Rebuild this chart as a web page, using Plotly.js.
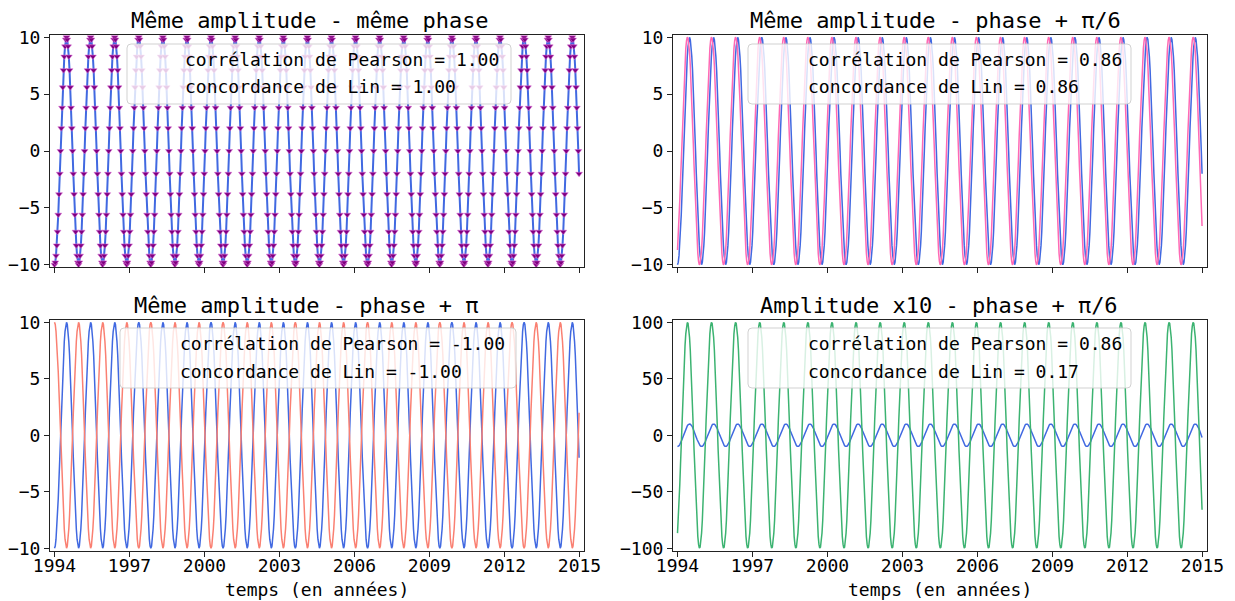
<!DOCTYPE html>
<html>
<head>
<meta charset="utf-8">
<script src="https://cdn.plot.ly/plotly-3.0.1.min.js"></script>
<style>html,body{margin:0;padding:0;background:#fff;}#chart{width:1235px;height:601px;}</style>
</head>
<body>
<div id="chart"></div>
<script>
// ---- data ----
// time axis: first sample at 1994.0, one sample every 0.030104 year
const t0 = 1994.0;
const dt = 0.030104;
const xTicks = [1994, 1997, 2000, 2003, 2006, 2009, 2012, 2015];
const yTicksSmall = [-10, -5, 0, 5, 10];
const yTicksLarge = [-100, -50, 0, 50, 100];

// reference series (blue)
const serieRef = [
-10,-9.8,-9.2,-8.3,-7.1,-5.6,-3.8,-2,0,2,3.8,5.6,7.1,8.3,9.2,9.8,10,9.8,9.2,8.3,7.1,5.6,3.8,2,0,-2,-3.8,-5.6,-7.1,-8.3,-9.2,-9.8,
-10,-9.8,-9.2,-8.3,-7.1,-5.6,-3.8,-2,0,2,3.8,5.6,7.1,8.3,9.2,9.8,10,9.8,9.2,8.3,7.1,5.6,3.8,2,0,-2,-3.8,-5.6,-7.1,-8.3,-9.2,-9.8,
-10,-9.8,-9.2,-8.3,-7.1,-5.6,-3.8,-2,0,2,3.8,5.6,7.1,8.3,9.2,9.8,10,9.8,9.2,8.3,7.1,5.6,3.8,2,0,-2,-3.8,-5.6,-7.1,-8.3,-9.2,-9.8,
-10,-9.8,-9.2,-8.3,-7.1,-5.6,-3.8,-2,0,2,3.8,5.6,7.1,8.3,9.2,9.8,10,9.8,9.2,8.3,7.1,5.6,3.8,2,0,-2,-3.8,-5.6,-7.1,-8.3,-9.2,-9.8,
-10,-9.8,-9.2,-8.3,-7.1,-5.6,-3.8,-2,0,2,3.8,5.6,7.1,8.3,9.2,9.8,10,9.8,9.2,8.3,7.1,5.6,3.8,2,0,-2,-3.8,-5.6,-7.1,-8.3,-9.2,-9.8,
-10,-9.8,-9.2,-8.3,-7.1,-5.6,-3.8,-2,0,2,3.8,5.6,7.1,8.3,9.2,9.8,10,9.8,9.2,8.3,7.1,5.6,3.8,2,0,-2,-3.8,-5.6,-7.1,-8.3,-9.2,-9.8,
-10,-9.8,-9.2,-8.3,-7.1,-5.6,-3.8,-2,0,2,3.8,5.6,7.1,8.3,9.2,9.8,10,9.8,9.2,8.3,7.1,5.6,3.8,2,0,-2,-3.8,-5.6,-7.1,-8.3,-9.2,-9.8,
-10,-9.8,-9.2,-8.3,-7.1,-5.6,-3.8,-2,0,2,3.8,5.6,7.1,8.3,9.2,9.8,10,9.8,9.2,8.3,7.1,5.6,3.8,2,0,-2,-3.8,-5.6,-7.1,-8.3,-9.2,-9.8,
-10,-9.8,-9.2,-8.3,-7.1,-5.6,-3.8,-2,0,2,3.8,5.6,7.1,8.3,9.2,9.8,10,9.8,9.2,8.3,7.1,5.6,3.8,2,0,-2,-3.8,-5.6,-7.1,-8.3,-9.2,-9.8,
-10,-9.8,-9.2,-8.3,-7.1,-5.6,-3.8,-2,0,2,3.8,5.6,7.1,8.3,9.2,9.8,10,9.8,9.2,8.3,7.1,5.6,3.8,2,0,-2,-3.8,-5.6,-7.1,-8.3,-9.2,-9.8,
-10,-9.8,-9.2,-8.3,-7.1,-5.6,-3.8,-2,0,2,3.8,5.6,7.1,8.3,9.2,9.8,10,9.8,9.2,8.3,7.1,5.6,3.8,2,0,-2,-3.8,-5.6,-7.1,-8.3,-9.2,-9.8,
-10,-9.8,-9.2,-8.3,-7.1,-5.6,-3.8,-2,0,2,3.8,5.6,7.1,8.3,9.2,9.8,10,9.8,9.2,8.3,7.1,5.6,3.8,2,0,-2,-3.8,-5.6,-7.1,-8.3,-9.2,-9.8,
-10,-9.8,-9.2,-8.3,-7.1,-5.6,-3.8,-2,0,2,3.8,5.6,7.1,8.3,9.2,9.8,10,9.8,9.2,8.3,7.1,5.6,3.8,2,0,-2,-3.8,-5.6,-7.1,-8.3,-9.2,-9.8,
-10,-9.8,-9.2,-8.3,-7.1,-5.6,-3.8,-2,0,2,3.8,5.6,7.1,8.3,9.2,9.8,10,9.8,9.2,8.3,7.1,5.6,3.8,2,0,-2,-3.8,-5.6,-7.1,-8.3,-9.2,-9.8,
-10,-9.8,-9.2,-8.3,-7.1,-5.6,-3.8,-2,0,2,3.8,5.6,7.1,8.3,9.2,9.8,10,9.8,9.2,8.3,7.1,5.6,3.8,2,0,-2,-3.8,-5.6,-7.1,-8.3,-9.2,-9.8,
-10,-9.8,-9.2,-8.3,-7.1,-5.6,-3.8,-2,0,2,3.8,5.6,7.1,8.3,9.2,9.8,10,9.8,9.2,8.3,7.1,5.6,3.8,2,0,-2,-3.8,-5.6,-7.1,-8.3,-9.2,-9.8,
-10,-9.8,-9.2,-8.3,-7.1,-5.6,-3.8,-2,0,2,3.8,5.6,7.1,8.3,9.2,9.8,10,9.8,9.2,8.3,7.1,5.6,3.8,2,0,-2,-3.8,-5.6,-7.1,-8.3,-9.2,-9.8,
-10,-9.8,-9.2,-8.3,-7.1,-5.6,-3.8,-2,0,2,3.8,5.6,7.1,8.3,9.2,9.8,10,9.8,9.2,8.3,7.1,5.6,3.8,2,0,-2,-3.8,-5.6,-7.1,-8.3,-9.2,-9.8,
-10,-9.8,-9.2,-8.3,-7.1,-5.6,-3.8,-2,0,2,3.8,5.6,7.1,8.3,9.2,9.8,10,9.8,9.2,8.3,7.1,5.6,3.8,2,0,-2,-3.8,-5.6,-7.1,-8.3,-9.2,-9.8,
-10,-9.8,-9.2,-8.3,-7.1,-5.6,-3.8,-2,0,2,3.8,5.6,7.1,8.3,9.2,9.8,10,9.8,9.2,8.3,7.1,5.6,3.8,2,0,-2,-3.8,-5.6,-7.1,-8.3,-9.2,-9.8,
-10,-9.8,-9.2,-8.3,-7.1,-5.6,-3.8,-2,0,2,3.8,5.6,7.1,8.3,9.2,9.8,10,9.8,9.2,8.3,7.1,5.6,3.8,2,0,-2,-3.8,-5.6,-7.1,-8.3,-9.2,-9.8,
-10,-9.8,-9.2,-8.3,-7.1,-5.6,-3.8,-2,0,2,3.8,5.6,7.1,8.3,9.2,9.8,10,9.8,9.2,8.3,7.1,5.6,3.8,2,0,-2
];

// same amplitude, phase + pi/6 (pink)
const seriePhase6 = [
-8.7,-7.5,-6.1,-4.4,-2.6,-0.7,1.3,3.2,5,6.6,7.9,9,9.7,10,9.9,9.5,8.7,7.5,6.1,4.4,2.6,0.7,-1.3,-3.2,-5,-6.6,-7.9,-9,-9.7,-10,-9.9,-9.5,
-8.7,-7.5,-6.1,-4.4,-2.6,-0.7,1.3,3.2,5,6.6,7.9,9,9.7,10,9.9,9.5,8.7,7.5,6.1,4.4,2.6,0.7,-1.3,-3.2,-5,-6.6,-7.9,-9,-9.7,-10,-9.9,-9.5,
-8.7,-7.5,-6.1,-4.4,-2.6,-0.7,1.3,3.2,5,6.6,7.9,9,9.7,10,9.9,9.5,8.7,7.5,6.1,4.4,2.6,0.7,-1.3,-3.2,-5,-6.6,-7.9,-9,-9.7,-10,-9.9,-9.5,
-8.7,-7.5,-6.1,-4.4,-2.6,-0.7,1.3,3.2,5,6.6,7.9,9,9.7,10,9.9,9.5,8.7,7.5,6.1,4.4,2.6,0.7,-1.3,-3.2,-5,-6.6,-7.9,-9,-9.7,-10,-9.9,-9.5,
-8.7,-7.5,-6.1,-4.4,-2.6,-0.7,1.3,3.2,5,6.6,7.9,9,9.7,10,9.9,9.5,8.7,7.5,6.1,4.4,2.6,0.7,-1.3,-3.2,-5,-6.6,-7.9,-9,-9.7,-10,-9.9,-9.5,
-8.7,-7.5,-6.1,-4.4,-2.6,-0.7,1.3,3.2,5,6.6,7.9,9,9.7,10,9.9,9.5,8.7,7.5,6.1,4.4,2.6,0.7,-1.3,-3.2,-5,-6.6,-7.9,-9,-9.7,-10,-9.9,-9.5,
-8.7,-7.5,-6.1,-4.4,-2.6,-0.7,1.3,3.2,5,6.6,7.9,9,9.7,10,9.9,9.5,8.7,7.5,6.1,4.4,2.6,0.7,-1.3,-3.2,-5,-6.6,-7.9,-9,-9.7,-10,-9.9,-9.5,
-8.7,-7.5,-6.1,-4.4,-2.6,-0.7,1.3,3.2,5,6.6,7.9,9,9.7,10,9.9,9.5,8.7,7.5,6.1,4.4,2.6,0.7,-1.3,-3.2,-5,-6.6,-7.9,-9,-9.7,-10,-9.9,-9.5,
-8.7,-7.5,-6.1,-4.4,-2.6,-0.7,1.3,3.2,5,6.6,7.9,9,9.7,10,9.9,9.5,8.7,7.5,6.1,4.4,2.6,0.7,-1.3,-3.2,-5,-6.6,-7.9,-9,-9.7,-10,-9.9,-9.5,
-8.7,-7.5,-6.1,-4.4,-2.6,-0.7,1.3,3.2,5,6.6,7.9,9,9.7,10,9.9,9.5,8.7,7.5,6.1,4.4,2.6,0.7,-1.3,-3.2,-5,-6.6,-7.9,-9,-9.7,-10,-9.9,-9.5,
-8.7,-7.5,-6.1,-4.4,-2.6,-0.7,1.3,3.2,5,6.6,7.9,9,9.7,10,9.9,9.5,8.7,7.5,6.1,4.4,2.6,0.7,-1.3,-3.2,-5,-6.6,-7.9,-9,-9.7,-10,-9.9,-9.5,
-8.7,-7.5,-6.1,-4.4,-2.6,-0.7,1.3,3.2,5,6.6,7.9,9,9.7,10,9.9,9.5,8.7,7.5,6.1,4.4,2.6,0.7,-1.3,-3.2,-5,-6.6,-7.9,-9,-9.7,-10,-9.9,-9.5,
-8.7,-7.5,-6.1,-4.4,-2.6,-0.7,1.3,3.2,5,6.6,7.9,9,9.7,10,9.9,9.5,8.7,7.5,6.1,4.4,2.6,0.7,-1.3,-3.2,-5,-6.6,-7.9,-9,-9.7,-10,-9.9,-9.5,
-8.7,-7.5,-6.1,-4.4,-2.6,-0.7,1.3,3.2,5,6.6,7.9,9,9.7,10,9.9,9.5,8.7,7.5,6.1,4.4,2.6,0.7,-1.3,-3.2,-5,-6.6,-7.9,-9,-9.7,-10,-9.9,-9.5,
-8.7,-7.5,-6.1,-4.4,-2.6,-0.7,1.3,3.2,5,6.6,7.9,9,9.7,10,9.9,9.5,8.7,7.5,6.1,4.4,2.6,0.7,-1.3,-3.2,-5,-6.6,-7.9,-9,-9.7,-10,-9.9,-9.5,
-8.7,-7.5,-6.1,-4.4,-2.6,-0.7,1.3,3.2,5,6.6,7.9,9,9.7,10,9.9,9.5,8.7,7.5,6.1,4.4,2.6,0.7,-1.3,-3.2,-5,-6.6,-7.9,-9,-9.7,-10,-9.9,-9.5,
-8.7,-7.5,-6.1,-4.4,-2.6,-0.7,1.3,3.2,5,6.6,7.9,9,9.7,10,9.9,9.5,8.7,7.5,6.1,4.4,2.6,0.7,-1.3,-3.2,-5,-6.6,-7.9,-9,-9.7,-10,-9.9,-9.5,
-8.7,-7.5,-6.1,-4.4,-2.6,-0.7,1.3,3.2,5,6.6,7.9,9,9.7,10,9.9,9.5,8.7,7.5,6.1,4.4,2.6,0.7,-1.3,-3.2,-5,-6.6,-7.9,-9,-9.7,-10,-9.9,-9.5,
-8.7,-7.5,-6.1,-4.4,-2.6,-0.7,1.3,3.2,5,6.6,7.9,9,9.7,10,9.9,9.5,8.7,7.5,6.1,4.4,2.6,0.7,-1.3,-3.2,-5,-6.6,-7.9,-9,-9.7,-10,-9.9,-9.5,
-8.7,-7.5,-6.1,-4.4,-2.6,-0.7,1.3,3.2,5,6.6,7.9,9,9.7,10,9.9,9.5,8.7,7.5,6.1,4.4,2.6,0.7,-1.3,-3.2,-5,-6.6,-7.9,-9,-9.7,-10,-9.9,-9.5,
-8.7,-7.5,-6.1,-4.4,-2.6,-0.7,1.3,3.2,5,6.6,7.9,9,9.7,10,9.9,9.5,8.7,7.5,6.1,4.4,2.6,0.7,-1.3,-3.2,-5,-6.6,-7.9,-9,-9.7,-10,-9.9,-9.5,
-8.7,-7.5,-6.1,-4.4,-2.6,-0.7,1.3,3.2,5,6.6,7.9,9,9.7,10,9.9,9.5,8.7,7.5,6.1,4.4,2.6,0.7,-1.3,-3.2,-5,-6.6
];

// same amplitude, phase + pi (salmon)
const seriePhasePi = [
10,9.8,9.2,8.3,7.1,5.6,3.8,2,0,-2,-3.8,-5.6,-7.1,-8.3,-9.2,-9.8,-10,-9.8,-9.2,-8.3,-7.1,-5.6,-3.8,-2,0,2,3.8,5.6,7.1,8.3,9.2,9.8,
10,9.8,9.2,8.3,7.1,5.6,3.8,2,0,-2,-3.8,-5.6,-7.1,-8.3,-9.2,-9.8,-10,-9.8,-9.2,-8.3,-7.1,-5.6,-3.8,-2,0,2,3.8,5.6,7.1,8.3,9.2,9.8,
10,9.8,9.2,8.3,7.1,5.6,3.8,2,0,-2,-3.8,-5.6,-7.1,-8.3,-9.2,-9.8,-10,-9.8,-9.2,-8.3,-7.1,-5.6,-3.8,-2,0,2,3.8,5.6,7.1,8.3,9.2,9.8,
10,9.8,9.2,8.3,7.1,5.6,3.8,2,0,-2,-3.8,-5.6,-7.1,-8.3,-9.2,-9.8,-10,-9.8,-9.2,-8.3,-7.1,-5.6,-3.8,-2,0,2,3.8,5.6,7.1,8.3,9.2,9.8,
10,9.8,9.2,8.3,7.1,5.6,3.8,2,0,-2,-3.8,-5.6,-7.1,-8.3,-9.2,-9.8,-10,-9.8,-9.2,-8.3,-7.1,-5.6,-3.8,-2,0,2,3.8,5.6,7.1,8.3,9.2,9.8,
10,9.8,9.2,8.3,7.1,5.6,3.8,2,0,-2,-3.8,-5.6,-7.1,-8.3,-9.2,-9.8,-10,-9.8,-9.2,-8.3,-7.1,-5.6,-3.8,-2,0,2,3.8,5.6,7.1,8.3,9.2,9.8,
10,9.8,9.2,8.3,7.1,5.6,3.8,2,0,-2,-3.8,-5.6,-7.1,-8.3,-9.2,-9.8,-10,-9.8,-9.2,-8.3,-7.1,-5.6,-3.8,-2,0,2,3.8,5.6,7.1,8.3,9.2,9.8,
10,9.8,9.2,8.3,7.1,5.6,3.8,2,0,-2,-3.8,-5.6,-7.1,-8.3,-9.2,-9.8,-10,-9.8,-9.2,-8.3,-7.1,-5.6,-3.8,-2,0,2,3.8,5.6,7.1,8.3,9.2,9.8,
10,9.8,9.2,8.3,7.1,5.6,3.8,2,0,-2,-3.8,-5.6,-7.1,-8.3,-9.2,-9.8,-10,-9.8,-9.2,-8.3,-7.1,-5.6,-3.8,-2,0,2,3.8,5.6,7.1,8.3,9.2,9.8,
10,9.8,9.2,8.3,7.1,5.6,3.8,2,0,-2,-3.8,-5.6,-7.1,-8.3,-9.2,-9.8,-10,-9.8,-9.2,-8.3,-7.1,-5.6,-3.8,-2,0,2,3.8,5.6,7.1,8.3,9.2,9.8,
10,9.8,9.2,8.3,7.1,5.6,3.8,2,0,-2,-3.8,-5.6,-7.1,-8.3,-9.2,-9.8,-10,-9.8,-9.2,-8.3,-7.1,-5.6,-3.8,-2,0,2,3.8,5.6,7.1,8.3,9.2,9.8,
10,9.8,9.2,8.3,7.1,5.6,3.8,2,0,-2,-3.8,-5.6,-7.1,-8.3,-9.2,-9.8,-10,-9.8,-9.2,-8.3,-7.1,-5.6,-3.8,-2,0,2,3.8,5.6,7.1,8.3,9.2,9.8,
10,9.8,9.2,8.3,7.1,5.6,3.8,2,0,-2,-3.8,-5.6,-7.1,-8.3,-9.2,-9.8,-10,-9.8,-9.2,-8.3,-7.1,-5.6,-3.8,-2,0,2,3.8,5.6,7.1,8.3,9.2,9.8,
10,9.8,9.2,8.3,7.1,5.6,3.8,2,0,-2,-3.8,-5.6,-7.1,-8.3,-9.2,-9.8,-10,-9.8,-9.2,-8.3,-7.1,-5.6,-3.8,-2,0,2,3.8,5.6,7.1,8.3,9.2,9.8,
10,9.8,9.2,8.3,7.1,5.6,3.8,2,0,-2,-3.8,-5.6,-7.1,-8.3,-9.2,-9.8,-10,-9.8,-9.2,-8.3,-7.1,-5.6,-3.8,-2,0,2,3.8,5.6,7.1,8.3,9.2,9.8,
10,9.8,9.2,8.3,7.1,5.6,3.8,2,0,-2,-3.8,-5.6,-7.1,-8.3,-9.2,-9.8,-10,-9.8,-9.2,-8.3,-7.1,-5.6,-3.8,-2,0,2,3.8,5.6,7.1,8.3,9.2,9.8,
10,9.8,9.2,8.3,7.1,5.6,3.8,2,0,-2,-3.8,-5.6,-7.1,-8.3,-9.2,-9.8,-10,-9.8,-9.2,-8.3,-7.1,-5.6,-3.8,-2,0,2,3.8,5.6,7.1,8.3,9.2,9.8,
10,9.8,9.2,8.3,7.1,5.6,3.8,2,0,-2,-3.8,-5.6,-7.1,-8.3,-9.2,-9.8,-10,-9.8,-9.2,-8.3,-7.1,-5.6,-3.8,-2,0,2,3.8,5.6,7.1,8.3,9.2,9.8,
10,9.8,9.2,8.3,7.1,5.6,3.8,2,0,-2,-3.8,-5.6,-7.1,-8.3,-9.2,-9.8,-10,-9.8,-9.2,-8.3,-7.1,-5.6,-3.8,-2,0,2,3.8,5.6,7.1,8.3,9.2,9.8,
10,9.8,9.2,8.3,7.1,5.6,3.8,2,0,-2,-3.8,-5.6,-7.1,-8.3,-9.2,-9.8,-10,-9.8,-9.2,-8.3,-7.1,-5.6,-3.8,-2,0,2,3.8,5.6,7.1,8.3,9.2,9.8,
10,9.8,9.2,8.3,7.1,5.6,3.8,2,0,-2,-3.8,-5.6,-7.1,-8.3,-9.2,-9.8,-10,-9.8,-9.2,-8.3,-7.1,-5.6,-3.8,-2,0,2,3.8,5.6,7.1,8.3,9.2,9.8,
10,9.8,9.2,8.3,7.1,5.6,3.8,2,0,-2,-3.8,-5.6,-7.1,-8.3,-9.2,-9.8,-10,-9.8,-9.2,-8.3,-7.1,-5.6,-3.8,-2,0,2
];

// amplitude x10, phase + pi/6 (green)
const serieAmp10 = [
-86.6,-75.2,-60.9,-44.2,-25.9,-6.5,13.1,32.1,50,65.9,79.3,89.7,96.6,99.8,99.1,94.7,86.6,75.2,60.9,44.2,25.9,6.5,-13.1,-32.1,-50,-65.9,-79.3,-89.7,-96.6,-99.8,-99.1,-94.7,
-86.6,-75.2,-60.9,-44.2,-25.9,-6.5,13.1,32.1,50,65.9,79.3,89.7,96.6,99.8,99.1,94.7,86.6,75.2,60.9,44.2,25.9,6.5,-13.1,-32.1,-50,-65.9,-79.3,-89.7,-96.6,-99.8,-99.1,-94.7,
-86.6,-75.2,-60.9,-44.2,-25.9,-6.5,13.1,32.1,50,65.9,79.3,89.7,96.6,99.8,99.1,94.7,86.6,75.2,60.9,44.2,25.9,6.5,-13.1,-32.1,-50,-65.9,-79.3,-89.7,-96.6,-99.8,-99.1,-94.7,
-86.6,-75.2,-60.9,-44.2,-25.9,-6.5,13.1,32.1,50,65.9,79.3,89.7,96.6,99.8,99.1,94.7,86.6,75.2,60.9,44.2,25.9,6.5,-13.1,-32.1,-50,-65.9,-79.3,-89.7,-96.6,-99.8,-99.1,-94.7,
-86.6,-75.2,-60.9,-44.2,-25.9,-6.5,13.1,32.1,50,65.9,79.3,89.7,96.6,99.8,99.1,94.7,86.6,75.2,60.9,44.2,25.9,6.5,-13.1,-32.1,-50,-65.9,-79.3,-89.7,-96.6,-99.8,-99.1,-94.7,
-86.6,-75.2,-60.9,-44.2,-25.9,-6.5,13.1,32.1,50,65.9,79.3,89.7,96.6,99.8,99.1,94.7,86.6,75.2,60.9,44.2,25.9,6.5,-13.1,-32.1,-50,-65.9,-79.3,-89.7,-96.6,-99.8,-99.1,-94.7,
-86.6,-75.2,-60.9,-44.2,-25.9,-6.5,13.1,32.1,50,65.9,79.3,89.7,96.6,99.8,99.1,94.7,86.6,75.2,60.9,44.2,25.9,6.5,-13.1,-32.1,-50,-65.9,-79.3,-89.7,-96.6,-99.8,-99.1,-94.7,
-86.6,-75.2,-60.9,-44.2,-25.9,-6.5,13.1,32.1,50,65.9,79.3,89.7,96.6,99.8,99.1,94.7,86.6,75.2,60.9,44.2,25.9,6.5,-13.1,-32.1,-50,-65.9,-79.3,-89.7,-96.6,-99.8,-99.1,-94.7,
-86.6,-75.2,-60.9,-44.2,-25.9,-6.5,13.1,32.1,50,65.9,79.3,89.7,96.6,99.8,99.1,94.7,86.6,75.2,60.9,44.2,25.9,6.5,-13.1,-32.1,-50,-65.9,-79.3,-89.7,-96.6,-99.8,-99.1,-94.7,
-86.6,-75.2,-60.9,-44.2,-25.9,-6.5,13.1,32.1,50,65.9,79.3,89.7,96.6,99.8,99.1,94.7,86.6,75.2,60.9,44.2,25.9,6.5,-13.1,-32.1,-50,-65.9,-79.3,-89.7,-96.6,-99.8,-99.1,-94.7,
-86.6,-75.2,-60.9,-44.2,-25.9,-6.5,13.1,32.1,50,65.9,79.3,89.7,96.6,99.8,99.1,94.7,86.6,75.2,60.9,44.2,25.9,6.5,-13.1,-32.1,-50,-65.9,-79.3,-89.7,-96.6,-99.8,-99.1,-94.7,
-86.6,-75.2,-60.9,-44.2,-25.9,-6.5,13.1,32.1,50,65.9,79.3,89.7,96.6,99.8,99.1,94.7,86.6,75.2,60.9,44.2,25.9,6.5,-13.1,-32.1,-50,-65.9,-79.3,-89.7,-96.6,-99.8,-99.1,-94.7,
-86.6,-75.2,-60.9,-44.2,-25.9,-6.5,13.1,32.1,50,65.9,79.3,89.7,96.6,99.8,99.1,94.7,86.6,75.2,60.9,44.2,25.9,6.5,-13.1,-32.1,-50,-65.9,-79.3,-89.7,-96.6,-99.8,-99.1,-94.7,
-86.6,-75.2,-60.9,-44.2,-25.9,-6.5,13.1,32.1,50,65.9,79.3,89.7,96.6,99.8,99.1,94.7,86.6,75.2,60.9,44.2,25.9,6.5,-13.1,-32.1,-50,-65.9,-79.3,-89.7,-96.6,-99.8,-99.1,-94.7,
-86.6,-75.2,-60.9,-44.2,-25.9,-6.5,13.1,32.1,50,65.9,79.3,89.7,96.6,99.8,99.1,94.7,86.6,75.2,60.9,44.2,25.9,6.5,-13.1,-32.1,-50,-65.9,-79.3,-89.7,-96.6,-99.8,-99.1,-94.7,
-86.6,-75.2,-60.9,-44.2,-25.9,-6.5,13.1,32.1,50,65.9,79.3,89.7,96.6,99.8,99.1,94.7,86.6,75.2,60.9,44.2,25.9,6.5,-13.1,-32.1,-50,-65.9,-79.3,-89.7,-96.6,-99.8,-99.1,-94.7,
-86.6,-75.2,-60.9,-44.2,-25.9,-6.5,13.1,32.1,50,65.9,79.3,89.7,96.6,99.8,99.1,94.7,86.6,75.2,60.9,44.2,25.9,6.5,-13.1,-32.1,-50,-65.9,-79.3,-89.7,-96.6,-99.8,-99.1,-94.7,
-86.6,-75.2,-60.9,-44.2,-25.9,-6.5,13.1,32.1,50,65.9,79.3,89.7,96.6,99.8,99.1,94.7,86.6,75.2,60.9,44.2,25.9,6.5,-13.1,-32.1,-50,-65.9,-79.3,-89.7,-96.6,-99.8,-99.1,-94.7,
-86.6,-75.2,-60.9,-44.2,-25.9,-6.5,13.1,32.1,50,65.9,79.3,89.7,96.6,99.8,99.1,94.7,86.6,75.2,60.9,44.2,25.9,6.5,-13.1,-32.1,-50,-65.9,-79.3,-89.7,-96.6,-99.8,-99.1,-94.7,
-86.6,-75.2,-60.9,-44.2,-25.9,-6.5,13.1,32.1,50,65.9,79.3,89.7,96.6,99.8,99.1,94.7,86.6,75.2,60.9,44.2,25.9,6.5,-13.1,-32.1,-50,-65.9,-79.3,-89.7,-96.6,-99.8,-99.1,-94.7,
-86.6,-75.2,-60.9,-44.2,-25.9,-6.5,13.1,32.1,50,65.9,79.3,89.7,96.6,99.8,99.1,94.7,86.6,75.2,60.9,44.2,25.9,6.5,-13.1,-32.1,-50,-65.9,-79.3,-89.7,-96.6,-99.8,-99.1,-94.7,
-86.6,-75.2,-60.9,-44.2,-25.9,-6.5,13.1,32.1,50,65.9,79.3,89.7,96.6,99.8,99.1,94.7,86.6,75.2,60.9,44.2,25.9,6.5,-13.1,-32.1,-50,-65.9
];

const panelTitles = [
  "Même amplitude - même phase",
  "Même amplitude - phase + π/6",
  "Même amplitude - phase + π",
  "Amplitude x10 - phase + π/6"
];
const pearson = ["1.00", "0.86", "-1.00", "0.86"];
const lin = ["1.00", "0.86", "-1.00", "0.17"];
const xLabel = "temps (en années)";

// ---- layout helpers (pixel -> paper fraction) ----
const W = 1235, H = 601;
const FONT = "DejaVu Sans Mono, monospace";
const fx = p => p / W;
const fy = p => 1 - p / H;

const colBlue = "#4169E1";
const colPink = "#FF69B4";
const colSalmon = "#FA8072";
const colGreen = "#3CB371";

const traces = [
  {type: "scatter", mode: "lines", y: serieRef, x0: t0, dx: dt, xaxis: "x", yaxis: "y",
   line: {color: colBlue, width: 2}, hoverinfo: "skip"},
  {type: "scatter", mode: "markers", y: serieRef, x0: t0, dx: dt, xaxis: "x", yaxis: "y",
   marker: {symbol: "triangle-down", size: 6, color: "#800080", line: {color: "rgba(218,112,214,0.55)", width: 1}}, hoverinfo: "skip"},
  {type: "scatter", mode: "lines", y: serieRef, x0: t0, dx: dt, xaxis: "x2", yaxis: "y2",
   line: {color: colBlue, width: 1.5}, hoverinfo: "skip"},
  {type: "scatter", mode: "lines", y: seriePhase6, x0: t0, dx: dt, xaxis: "x2", yaxis: "y2",
   line: {color: colPink, width: 1.5}, hoverinfo: "skip"},
  {type: "scatter", mode: "lines", y: serieRef, x0: t0, dx: dt, xaxis: "x3", yaxis: "y3",
   line: {color: colBlue, width: 1.5}, hoverinfo: "skip"},
  {type: "scatter", mode: "lines", y: seriePhasePi, x0: t0, dx: dt, xaxis: "x3", yaxis: "y3",
   line: {color: colSalmon, width: 1.5}, hoverinfo: "skip"},
  {type: "scatter", mode: "lines", y: serieRef, x0: t0, dx: dt, xaxis: "x4", yaxis: "y4",
   line: {color: colBlue, width: 1.5}, hoverinfo: "skip"},
  {type: "scatter", mode: "lines", y: serieAmp10, x0: t0, dx: dt, xaxis: "x4", yaxis: "y4",
   line: {color: colGreen, width: 1.5}, hoverinfo: "skip"}
];

const xRange = [1993.82, 2015.18];
const colX = [[50, 584], [673, 1207]];
const rowY = [[35, 267], [320, 550.5]];

function xAxis(col, row, anchor, labels) {
  return {
    domain: [fx(colX[col][0]), fx(colX[col][1])], anchor: anchor,
    range: xRange, tickvals: xTicks,
    showticklabels: labels, ticks: "outside", ticklen: 5, tickwidth: 1, tickcolor: "#222",
    ticklabelstandoff: -6,
    showline: true, mirror: true, linecolor: "#222", linewidth: 1,
    showgrid: false, zeroline: false,
    tickfont: {family: FONT, size: 18, color: "#000"}
  };
}
function yAxis(col, row, anchor, range, ticks) {
  return {
    domain: [fy(rowY[row][1]), fy(rowY[row][0])], anchor: anchor,
    range: range, tickvals: ticks,
    ticks: "outside", ticklen: 5, tickwidth: 1, tickcolor: "#222",
    showline: true, mirror: true, linecolor: "#222", linewidth: 1,
    showgrid: false, zeroline: false,
    tickfont: {family: FONT, size: 18, color: "#000"}
  };
}

function roundRect(x1, y1, x2, y2, r) {
  const X = fx, Y = fy;
  return "M" + X(x1 + r) + "," + Y(y1) +
    " L" + X(x2 - r) + "," + Y(y1) +
    " Q" + X(x2) + "," + Y(y1) + " " + X(x2) + "," + Y(y1 + r) +
    " L" + X(x2) + "," + Y(y2 - r) +
    " Q" + X(x2) + "," + Y(y2) + " " + X(x2 - r) + "," + Y(y2) +
    " L" + X(x1 + r) + "," + Y(y2) +
    " Q" + X(x1) + "," + Y(y2) + " " + X(x1) + "," + Y(y2 - r) +
    " L" + X(x1) + "," + Y(y1 + r) +
    " Q" + X(x1) + "," + Y(y1) + " " + X(x1 + r) + "," + Y(y1) + " Z";
}

// legend-like boxes: [x1, y1, x2, y2, textX, line1Y, line2Y]
const boxes = [
  [127, 44, 511, 104, 183, 59, 87],
  [748, 44, 1131, 104, 806, 59, 87],
  [120, 328, 516, 388, 178, 343, 371],
  [748, 328, 1131, 388, 806, 343, 371]
];
const titlePos = [[310, 21], [935, 21], [306, 305], [939, 305]];

const shapes = boxes.map(b => ({
  type: "path", xref: "paper", yref: "paper", layer: "above",
  path: roundRect(b[0], b[1], b[2], b[3], 4),
  fillcolor: "rgba(255,255,255,0.8)", line: {color: "rgba(204,204,204,0.9)", width: 1}
}));

const annotations = [];
boxes.forEach((b, i) => {
  annotations.push({xref: "paper", yref: "paper", x: fx(b[4]), y: fy(b[5]), xanchor: "left", yanchor: "middle",
    text: "corrélation de Pearson = " + pearson[i], showarrow: false, font: {family: FONT, size: 18, color: "#000"}});
  annotations.push({xref: "paper", yref: "paper", x: fx(b[4]), y: fy(b[6]), xanchor: "left", yanchor: "middle",
    text: "concordance de Lin = " + lin[i], showarrow: false, font: {family: FONT, size: 18, color: "#000"}});
});
titlePos.forEach((p, i) => {
  annotations.push({xref: "paper", yref: "paper", x: fx(p[0]), y: fy(p[1]), xanchor: "center", yanchor: "middle",
    text: panelTitles[i], showarrow: false, font: {family: FONT, size: 22, color: "#000"}});
});
[[317, 589], [940, 589]].forEach(p => {
  annotations.push({xref: "paper", yref: "paper", x: fx(p[0]), y: fy(p[1]), xanchor: "center", yanchor: "middle",
    text: xLabel, showarrow: false, font: {family: FONT, size: 18, color: "#000"}});
});

const layout = {
  width: W, height: H,
  margin: {l: 0, r: 0, t: 0, b: 0},
  paper_bgcolor: "#fff", plot_bgcolor: "#fff",
  showlegend: false,
  font: {family: FONT, size: 18, color: "#000"},
  xaxis: xAxis(0, 0, "y", false),
  yaxis: yAxis(0, 0, "x", [-10.2, 10.2], yTicksSmall),
  xaxis2: xAxis(1, 0, "y2", false),
  yaxis2: yAxis(1, 0, "x2", [-10.2, 10.2], yTicksSmall),
  xaxis3: xAxis(0, 1, "y3", true),
  yaxis3: yAxis(0, 1, "x3", [-10.2, 10.2], yTicksSmall),
  xaxis4: xAxis(1, 1, "y4", true),
  yaxis4: yAxis(1, 1, "x4", [-102, 102], yTicksLarge),
  shapes: shapes,
  annotations: annotations
};

Plotly.newPlot("chart", traces, layout, {staticPlot: true, displayModeBar: false});
</script>
</body>
</html>
